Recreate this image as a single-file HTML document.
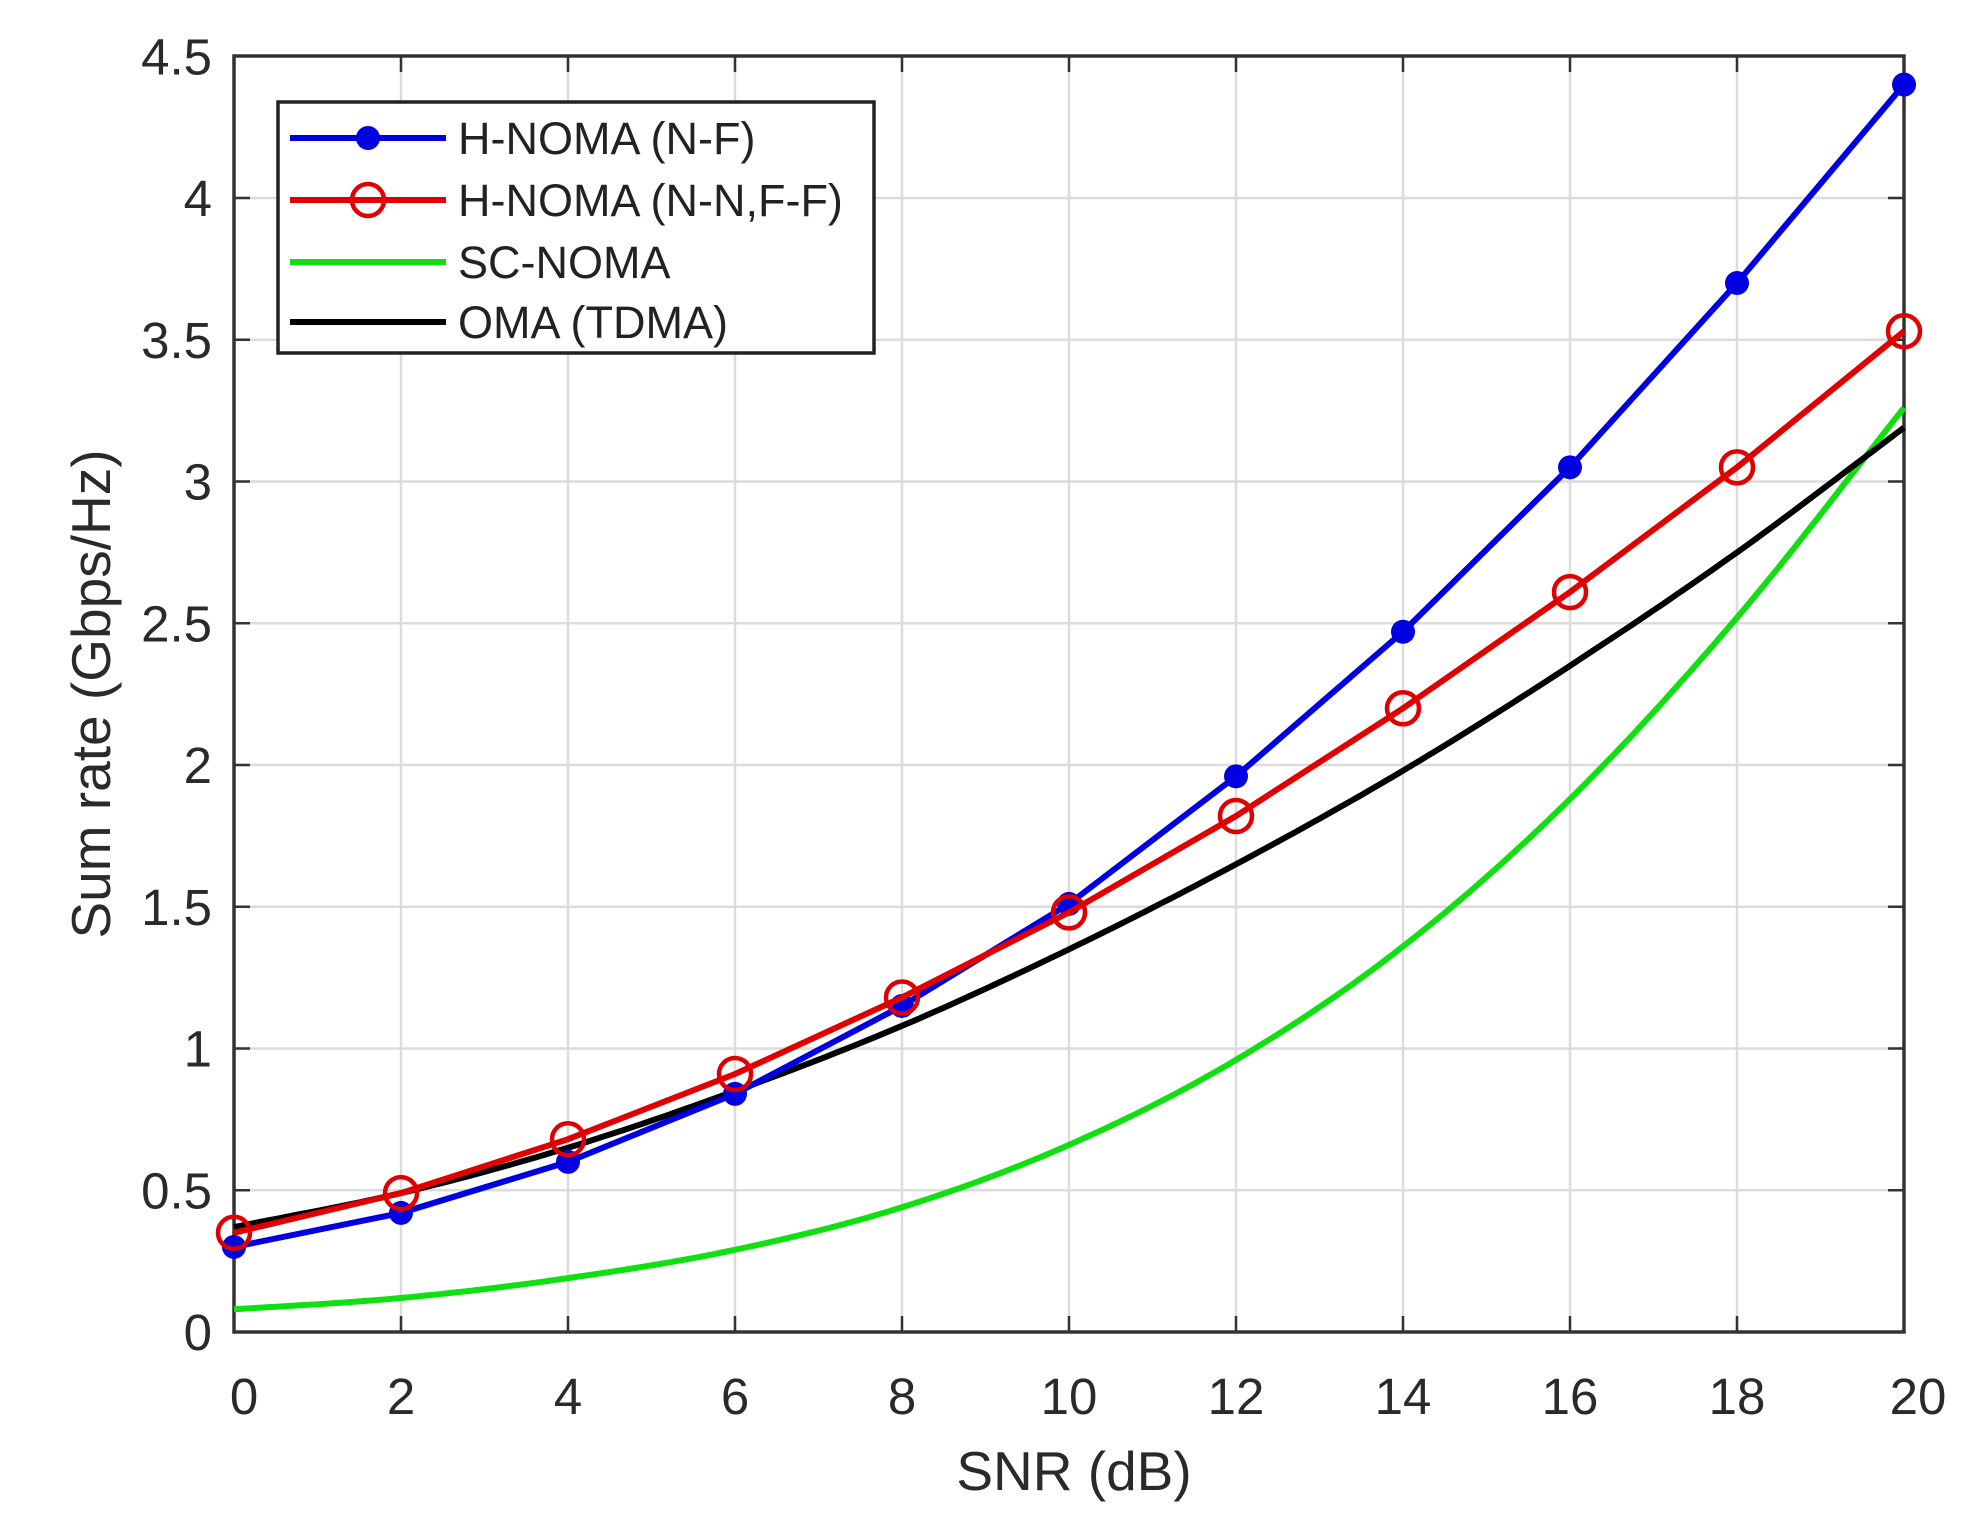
<!DOCTYPE html>
<html><head><meta charset="utf-8"><style>
html,body{margin:0;padding:0;background:#fff;}
svg{display:block;font-family:"Liberation Sans",Arial,sans-serif;}
</style></head><body>
<svg width="1988" height="1517" viewBox="0 0 1988 1517" xmlns="http://www.w3.org/2000/svg">
<rect width="1988" height="1517" fill="#fff"/>
<g id="grid" stroke="#dcdcdc" stroke-width="2.5"></g>
<g id="ticks" stroke="#333" stroke-width="2.5"></g>
<rect x="234" y="56" width="1670" height="1276" fill="none" stroke="#333" stroke-width="3.5"/>
<g id="series"></g>
<g id="labels" fill="#2a2a2a" font-size="51"></g>
<text x="1074" y="1490" text-anchor="middle" font-size="55" fill="#2a2a2a">SNR (dB)</text>
<text transform="translate(110,694) rotate(-90)" text-anchor="middle" font-size="55" fill="#2a2a2a">Sum rate (Gbps/Hz)</text>
<g id="legend">
<rect x="278" y="102" width="596" height="251" fill="#fff" stroke="#222" stroke-width="3.5"/>
<line x1="290" y1="138" x2="446" y2="138" stroke="#0000e0" stroke-width="6"/>
<line x1="290" y1="200" x2="446" y2="200" stroke="#e00000" stroke-width="6"/>
<circle cx="368" cy="200" r="16" fill="none" stroke="#e00000" stroke-width="4.5"/>
<line x1="290" y1="262" x2="446" y2="262" stroke="#10e010" stroke-width="6"/>
<line x1="290" y1="322" x2="446" y2="322" stroke="#000" stroke-width="6"/>
<g font-size="45" fill="#222">
<text x="458" y="154">H-NOMA (N-F)</text>
<text x="458" y="216">H-NOMA (N-N,F-F)</text>
<text x="458" y="278">SC-NOMA</text>
<text x="458" y="338">OMA (TDMA)</text>
</g>
</g>
</svg>
<script>
(function(){
var NS="http://www.w3.org/2000/svg";
function X(v){return 234+v*83.5;}
function Y(v){return 1332-v*283.5;}
function el(p,t,a,txt){var e=document.createElementNS(NS,t);for(var k in a)e.setAttribute(k,a[k]);if(txt!==undefined)e.textContent=txt;document.getElementById(p).appendChild(e);return e;}
for(var i=2;i<20;i+=2)el("grid","line",{x1:X(i),x2:X(i),y1:56,y2:1332});
for(var j=1;j<9;j++)el("grid","line",{x1:234,x2:1904,y1:Y(j*0.5),y2:Y(j*0.5)});
for(var i=0;i<=20;i+=2){el("ticks","line",{x1:X(i),x2:X(i),y1:1332,y2:1316});el("ticks","line",{x1:X(i),x2:X(i),y1:56,y2:72});
 el("labels","text",{x:X(i)+(i==0?10:(i==20?14:0)),y:1414,"text-anchor":"middle"},String(i));}
var yl=["0","0.5","1","1.5","2","2.5","3","3.5","4","4.5"];
for(var j=0;j<=9;j++){el("ticks","line",{x1:234,x2:250,y1:Y(j*0.5),y2:Y(j*0.5)});el("ticks","line",{x1:1904,x2:1888,y1:Y(j*0.5),y2:Y(j*0.5)});
 el("labels","text",{x:212,y:Y(j*0.5)+18,"text-anchor":"end"},yl[j]);}
var xs=[0,2,4,6,8,10,12,14,16,18,20];
var green=[0.08,0.12,0.19,0.29,0.44,0.66,0.96,1.36,1.88,2.52,3.26];
var black=[0.37,0.49,0.65,0.85,1.08,1.35,1.65,1.98,2.35,2.75,3.19];
var red=[0.35,0.49,0.68,0.91,1.18,1.48,1.82,2.2,2.61,3.05,3.53];
var blue=[0.3,0.42,0.6,0.84,1.15,1.51,1.96,2.47,3.05,3.7,4.4];
function smooth(d){var s="";for(var t=0;t<=200;t++){var x=t/10;var k=Math.min(9,Math.floor(x/2));var f=(x-xs[k])/2;
 var p0=d[Math.max(0,k-1)],p1=d[k],p2=d[k+1],p3=(k+2<=10)?d[k+2]:(2*d[10]-d[9]);
 if(k==0)p0=2*d[0]-d[1];
 var v=0.5*((2*p1)+(-p0+p2)*f+(2*p0-5*p1+4*p2-p3)*f*f+(-p0+3*p1-3*p2+p3)*f*f*f);
 s+=(t?"L":"M")+X(x).toFixed(1)+","+Y(v).toFixed(1);}return s;}
function poly(d){return d.map(function(v,i){return (i?"L":"M")+X(xs[i])+","+Y(v);}).join("");}
el("series","path",{d:smooth(green),fill:"none",stroke:"#10e010","stroke-width":6});
el("series","path",{d:smooth(black),fill:"none",stroke:"#000","stroke-width":6});
el("series","path",{d:poly(blue),fill:"none",stroke:"#0000e0","stroke-width":6});
blue.forEach(function(v,i){el("series","circle",{cx:X(xs[i]),cy:Y(v),r:12,fill:"#0000e0"});});
el("series","path",{d:poly(red),fill:"none",stroke:"#e00000","stroke-width":6});
red.forEach(function(v,i){el("series","circle",{cx:X(xs[i]),cy:Y(v),r:16,fill:"none",stroke:"#e00000","stroke-width":4.5});});
var lg=document.getElementById("legend");
var c=document.createElementNS(NS,"circle");c.setAttribute("cx",368);c.setAttribute("cy",138);c.setAttribute("r",12);c.setAttribute("fill","#0000e0");lg.appendChild(c);
})();
</script>
</body></html>
